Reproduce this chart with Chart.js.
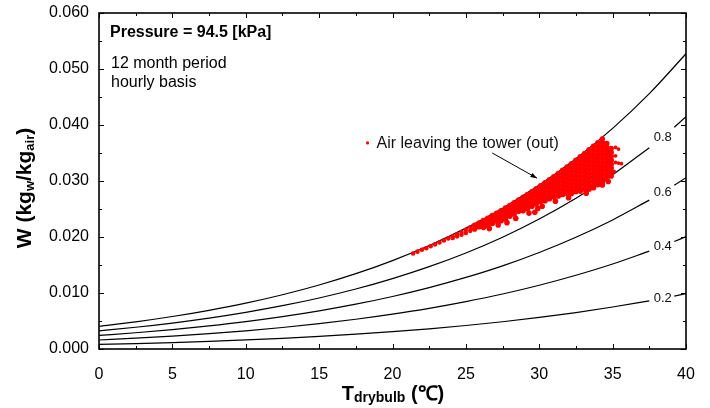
<!DOCTYPE html>
<html>
<head>
<meta charset="utf-8">
<script src="https://cdn.jsdelivr.net/npm/chart.js@4.4.1/dist/chart.umd.min.js"></script>
<style>
  html, body { margin: 0; padding: 0; background: #fff; }
  #wrap { width: 710px; height: 408px; }
</style>
</head>
<body>
<div id="wrap"><canvas id="psyChart" width="710" height="408"></canvas></div>
<script>
// dry bulb temperatures (C) the humidity curves are read at
const tGrid = [0, 2.5, 5, 7.5, 10, 12.5, 15, 17.5, 20, 22.5, 25, 27.5, 30, 32.5, 35, 37.5, 40];

// saturation line (RH = 1.0), full range
const wSat = [0.00405, 0.00485, 0.00580, 0.00691, 0.00819, 0.00969, 0.01143, 0.01345, 0.01579,
  0.01848, 0.02159, 0.02515, 0.02927, 0.03399, 0.03940, 0.04560, 0.05272];

// constant RH curves, 0 .. 37.5 C (they break for the label near 38-39 C)
const w80 = [0.00324, 0.00388, 0.00463, 0.00551, 0.00654, 0.00773, 0.00911, 0.01071, 0.01257,
  0.01470, 0.01715, 0.01996, 0.02320, 0.02690, 0.03112, 0.03595];
const w60 = [0.00242, 0.00290, 0.00347, 0.00413, 0.00489, 0.00578, 0.00681, 0.00800, 0.00938,
  0.01096, 0.01278, 0.01485, 0.01724, 0.01996, 0.02305, 0.02658];
const w40 = [0.00161, 0.00193, 0.00231, 0.00274, 0.00325, 0.00384, 0.00452, 0.00531, 0.00622,
  0.00726, 0.00846, 0.00982, 0.01139, 0.01317, 0.01518, 0.01747];
const w20 = [0.00081, 0.00097, 0.00115, 0.00137, 0.00162, 0.00191, 0.00225, 0.00264, 0.00310,
  0.00361, 0.00420, 0.00487, 0.00564, 0.00651, 0.00750, 0.00861];

// short pieces after the label
const tTail = [39.2, 40];
const w80Tail = [0.03961, 0.04148];
const w60Tail = [0.02924, 0.03060];
const w40Tail = [0.01919, 0.02007];
const w20Tail = [0.00945, 0.00988];

const rhLabels = ['0.8', '0.6', '0.4', '0.2'];

// hourly points, air leaving the tower [T, W]
const airOut = [
  [21.4, 0.01705], [21.7, 0.01738], [22.0, 0.01771], [22.3, 0.01800], [22.6, 0.01835], [22.9, 0.01868],
  [23.2, 0.01903], [23.5, 0.01938], [23.8, 0.01975],
  [24.1, 0.02012], [24.1, 0.01982], [24.4, 0.02050], [24.4, 0.02012], [24.7, 0.02089], [24.7, 0.02042],
  [25.0, 0.02129], [25.0, 0.02072], [25.3, 0.02169], [25.3, 0.02110], [25.6, 0.02210], [25.6, 0.02142],
  [25.9, 0.02251], [25.9, 0.02183],
  [26.2, 0.02294], [26.2, 0.02224], [26.2, 0.02172],
  [26.5, 0.02336], [26.5, 0.02266], [26.5, 0.02206], [26.6, 0.02150],
  [26.8, 0.02381], [26.8, 0.02311], [26.8, 0.02241],
  [27.1, 0.02425], [27.1, 0.02355], [27.1, 0.02285], [27.2, 0.02215],
  [27.4, 0.02470], [27.4, 0.02400], [27.4, 0.02330], [27.4, 0.02290],
  [27.7, 0.02516], [27.7, 0.02446], [27.7, 0.02376], [27.7, 0.02326], [27.8, 0.02256],
  [28.0, 0.02562], [28.0, 0.02492], [28.0, 0.02422], [28.0, 0.02372],
  [28.3, 0.02610], [28.3, 0.02540], [28.3, 0.02470], [28.3, 0.02410], [28.4, 0.02330],
  [28.6, 0.02658], [28.6, 0.02588], [28.6, 0.02518], [28.6, 0.02458],
  [28.9, 0.02707], [28.9, 0.02637], [28.9, 0.02567], [28.9, 0.02497], [28.9, 0.02467],
  [29.2, 0.02757], [29.2, 0.02687], [29.2, 0.02617], [29.2, 0.02547], [29.2, 0.02507], [29.3, 0.02427],
  [29.5, 0.02808], [29.5, 0.02738], [29.5, 0.02668], [29.5, 0.02598], [29.5, 0.02548],
  [29.8, 0.02861], [29.8, 0.02791], [29.8, 0.02721], [29.8, 0.02651], [29.8, 0.02591], [29.9, 0.02510], [29.7, 0.02440],
  [30.1, 0.02914], [30.1, 0.02844], [30.1, 0.02774], [30.1, 0.02704], [30.1, 0.02634], [30.2, 0.02550],
  [30.4, 0.02968], [30.4, 0.02898], [30.4, 0.02828], [30.4, 0.02758], [30.4, 0.02688], [30.4, 0.02648],
  [30.7, 0.03022], [30.7, 0.02952], [30.7, 0.02882], [30.7, 0.02812], [30.7, 0.02742], [30.7, 0.02682],
  [31.0, 0.03077], [31.0, 0.03007], [31.0, 0.02937], [31.0, 0.02867], [31.0, 0.02797], [31.0, 0.02717], [31.1, 0.02640],
  [31.3, 0.03133], [31.3, 0.03063], [31.3, 0.02993], [31.3, 0.02923], [31.3, 0.02853], [31.3, 0.02783], [31.3, 0.02733],
  [31.6, 0.03190], [31.6, 0.03120], [31.6, 0.03050], [31.6, 0.02980], [31.6, 0.02910], [31.6, 0.02840], [31.6, 0.02760],
  [31.9, 0.03249], [31.9, 0.03179], [31.9, 0.03109], [31.9, 0.03039], [31.9, 0.02969], [31.9, 0.02899], [31.9, 0.02829],
  [31.9, 0.02779], [32.0, 0.02700],
  [32.2, 0.03309], [32.2, 0.03239], [32.2, 0.03169], [32.2, 0.03099], [32.2, 0.03029], [32.2, 0.02959], [32.2, 0.02889],
  [32.2, 0.02819], [32.2, 0.02779],
  [32.5, 0.03369], [32.5, 0.03299], [32.5, 0.03229], [32.5, 0.03159], [32.5, 0.03089], [32.5, 0.03019], [32.5, 0.02949],
  [32.5, 0.02879], [32.5, 0.02809],
  [32.8, 0.03430], [32.8, 0.03360], [32.8, 0.03290], [32.8, 0.03220], [32.8, 0.03150], [32.8, 0.03080], [32.8, 0.03010],
  [32.8, 0.02940], [32.8, 0.02870], [32.8, 0.02820],
  [33.1, 0.03491], [33.1, 0.03421], [33.1, 0.03351], [33.1, 0.03281], [33.1, 0.03211], [33.1, 0.03141], [33.1, 0.03071],
  [33.1, 0.03001], [33.1, 0.02931], [33.1, 0.02851], [33.2, 0.02780],
  [33.4, 0.03555], [33.4, 0.03485], [33.4, 0.03415], [33.4, 0.03345], [33.4, 0.03275], [33.4, 0.03205], [33.4, 0.03135],
  [33.4, 0.03065], [33.4, 0.02995], [33.4, 0.02925], [33.4, 0.02855],
  [33.7, 0.03619], [33.7, 0.03549], [33.7, 0.03479], [33.7, 0.03409], [33.7, 0.03339], [33.7, 0.03269], [33.7, 0.03199],
  [33.7, 0.03129], [33.7, 0.03059], [33.7, 0.02989], [33.7, 0.02919], [33.7, 0.02879],
  [34.0, 0.03684], [34.0, 0.03614], [34.0, 0.03544], [34.0, 0.03474], [34.0, 0.03404], [34.0, 0.03334], [34.0, 0.03264],
  [34.0, 0.03194], [34.0, 0.03124], [34.0, 0.03054], [34.0, 0.02984], [34.0, 0.02934],
  [34.3, 0.03751], [34.3, 0.03681], [34.3, 0.03611], [34.3, 0.03541], [34.3, 0.03471], [34.3, 0.03401], [34.3, 0.03331],
  [34.3, 0.03261], [34.3, 0.03191], [34.3, 0.03121], [34.3, 0.03051], [34.3, 0.02981], [34.3, 0.02930],
  [34.6, 0.03670], [34.6, 0.03600], [34.6, 0.03530], [34.6, 0.03460], [34.6, 0.03390], [34.6, 0.03320], [34.6, 0.03250],
  [34.6, 0.03180], [34.6, 0.03110], [34.6, 0.03040], [34.7, 0.02990],
  [34.9, 0.03580], [34.9, 0.03510], [34.9, 0.03440], [34.9, 0.03370], [34.9, 0.03300], [34.9, 0.03230], [34.9, 0.03160],
  [34.9, 0.03090],
  [35.2, 0.03600], [35.4, 0.03570], [35.2, 0.03450], [35.2, 0.03330], [35.4, 0.03320], [35.6, 0.03310], [35.1, 0.03170]
];

const xy = (ts, ws) => ws.map((w, i) => ({ x: ts[i], y: w }));

function curve(ts, ws) {
  return {
    type: 'line',
    data: xy(ts, ws),
    borderColor: '#000',
    borderWidth: 1.2,
    pointRadius: 0,
    cubicInterpolationMode: 'monotone',
    order: 2
  };
}

const FONT = 'Arial, "Liberation Sans", Helvetica, sans-serif';
Chart.defaults.font.family = FONT;

// frame, inward ticks, titles and the text notes
const decorations = {
  id: 'decorations',
  afterDraw(chart) {
    const { ctx, chartArea: a, scales: { x, y } } = chart;
    ctx.save();

    // inward ticks on all four sides
    ctx.strokeStyle = '#000';
    ctx.lineWidth = 1;
    ctx.beginPath();
    for (let v = 0; v <= 40; v += 2.5) {
      const px = Math.round(x.getPixelForValue(v)) + 0.5;
      const len = v % 5 === 0 ? 5 : 3;
      ctx.moveTo(px, a.bottom); ctx.lineTo(px, a.bottom - len);
      ctx.moveTo(px, a.top); ctx.lineTo(px, a.top + len);
    }
    for (let k = 0; k <= 12; k++) {
      const py = Math.round(y.getPixelForValue(k * 0.005)) + 0.5;
      const len = k % 2 === 0 ? 5 : 3;
      ctx.moveTo(a.left, py); ctx.lineTo(a.left + len, py);
      ctx.moveTo(a.right, py); ctx.lineTo(a.right - len, py);
    }
    ctx.stroke();

    ctx.lineWidth = 1.6;
    ctx.strokeRect(a.left, a.top, a.right - a.left, a.bottom - a.top);

    // RH labels in the gaps of the curves
    const mains = [w80, w60, w40, w20];
    const tails = [w80Tail, w60Tail, w40Tail, w20Tail];
    ctx.fillStyle = '#111';
    ctx.font = '13px ' + FONT;
    ctx.textAlign = 'center';
    ctx.textBaseline = 'middle';
    rhLabels.forEach((lab, i) => {
      const m = mains[i];
      const tx = (tGrid[m.length - 1] + tTail[0]) / 2;
      const ty = (m[m.length - 1] + tails[i][0]) / 2;
      ctx.fillText(lab, x.getPixelForValue(tx) + 1, y.getPixelForValue(ty));
    });

    // notes at the top left
    ctx.textAlign = 'left';
    ctx.fillStyle = '#000';
    ctx.font = 'bold 16px ' + FONT;
    ctx.fillText('Pressure = 94.5 [kPa]', a.left + 11, a.top + 20);
    ctx.font = '16px ' + FONT;
    ctx.fillText('12 month period', a.left + 12, a.top + 51);
    ctx.fillText('hourly basis', a.left + 12, a.top + 70);

    // legend-like marker and arrow
    const lx = x.getPixelForValue(18.3), ly = y.getPixelForValue(0.0368);
    ctx.fillStyle = 'rgb(255,0,0)';
    ctx.beginPath(); ctx.arc(lx, ly, 1.6, 0, Math.PI * 2); ctx.fill();
    ctx.fillStyle = '#111';
    ctx.fillText('Air leaving the tower (out)', lx + 9, ly + 1);

    const x0 = x.getPixelForValue(26.8), y0 = y.getPixelForValue(0.0350);
    const x1 = x.getPixelForValue(29.85), y1 = y.getPixelForValue(0.0305);
    const ang = Math.atan2(y1 - y0, x1 - x0);
    ctx.strokeStyle = '#000';
    ctx.lineWidth = 1;
    ctx.beginPath(); ctx.moveTo(x0, y0); ctx.lineTo(x1, y1); ctx.stroke();
    ctx.fillStyle = '#000';
    ctx.beginPath();
    ctx.moveTo(x1, y1);
    ctx.lineTo(x1 - 7 * Math.cos(ang - 0.35), y1 - 7 * Math.sin(ang - 0.35));
    ctx.lineTo(x1 - 7 * Math.cos(ang + 0.35), y1 - 7 * Math.sin(ang + 0.35));
    ctx.closePath(); ctx.fill();

    // axis titles with subscripts
    const runs = (parts) => {
      let w = 0;
      parts.forEach(p => { ctx.font = p[1]; w += ctx.measureText(p[0]).width; });
      return w;
    };
    const drawRuns = (parts, cx, base) => {
      let cur = cx - runs(parts) / 2;
      parts.forEach(p => {
        ctx.font = p[1];
        ctx.fillText(p[0], cur, base + p[2]);
        cur += ctx.measureText(p[0]).width;
      });
    };
    ctx.fillStyle = '#000';
    ctx.textAlign = 'left';
    ctx.textBaseline = 'alphabetic';
    const big = 'bold 21px ' + FONT, sub = 'bold 13px ' + FONT;
    ctx.save();
    ctx.translate(31, 188);
    ctx.rotate(-Math.PI / 2);
    drawRuns([['W (kg', big, 0], ['w', sub, 3], ['/kg', big, 0], ['air', sub, 3], [')', big, 0]], 0, 0);
    ctx.restore();

    const bigX = 'bold 20px ' + FONT, subX = 'bold 14px ' + FONT;
    drawRuns([['T', bigX, 0], ['drybulb', subX, 2], [' (\u2103)', bigX, 0]], 393, 400);

    ctx.restore();
  }
};

new Chart(document.getElementById('psyChart').getContext('2d'), {
  type: 'scatter',
  data: {
    datasets: [
      {
        label: 'Air leaving the tower (out)',
        data: airOut.map(p => ({ x: p[0], y: p[1] })),
        backgroundColor: 'rgb(255,0,0)',
        borderWidth: 0,
        // thin tail and lone outliers get smaller dots, the core is packed
        pointRadius: (c) => {
          const t = c.raw ? c.raw.x : 30;
          if (t > 35.0) return 1.9;
          return t < 25.5 ? 2.3 : 2.8;
        },
        order: 0
      },
      curve(tGrid, wSat),
      curve(tGrid, w80), curve(tTail, w80Tail),
      curve(tGrid, w60), curve(tTail, w60Tail),
      curve(tGrid, w40), curve(tTail, w40Tail),
      curve(tGrid, w20), curve(tTail, w20Tail)
    ]
  },
  options: {
    responsive: false,
    animation: false,
    layout: { padding: { top: 13, right: 24, left: 0, bottom: 0 } },
    plugins: { legend: { display: false }, tooltip: { enabled: false } },
    scales: {
      x: {
        type: 'linear',
        min: 0, max: 40,
        grid: { display: false },
        border: { display: false },
        ticks: { stepSize: 5, color: '#000', font: { size: 16 }, padding: 8, maxRotation: 0 },
        afterFit: (s) => { s.height = 59; }
      },
      y: {
        min: 0, max: 0.06,
        grid: { display: false },
        border: { display: false },
        ticks: { stepSize: 0.01, color: '#000', font: { size: 16 }, padding: 2,
          callback: (v) => v.toFixed(3) },
        afterFit: (s) => { s.width = 99; }
      }
    }
  },
  plugins: [decorations]
});
</script>
</body>
</html>
